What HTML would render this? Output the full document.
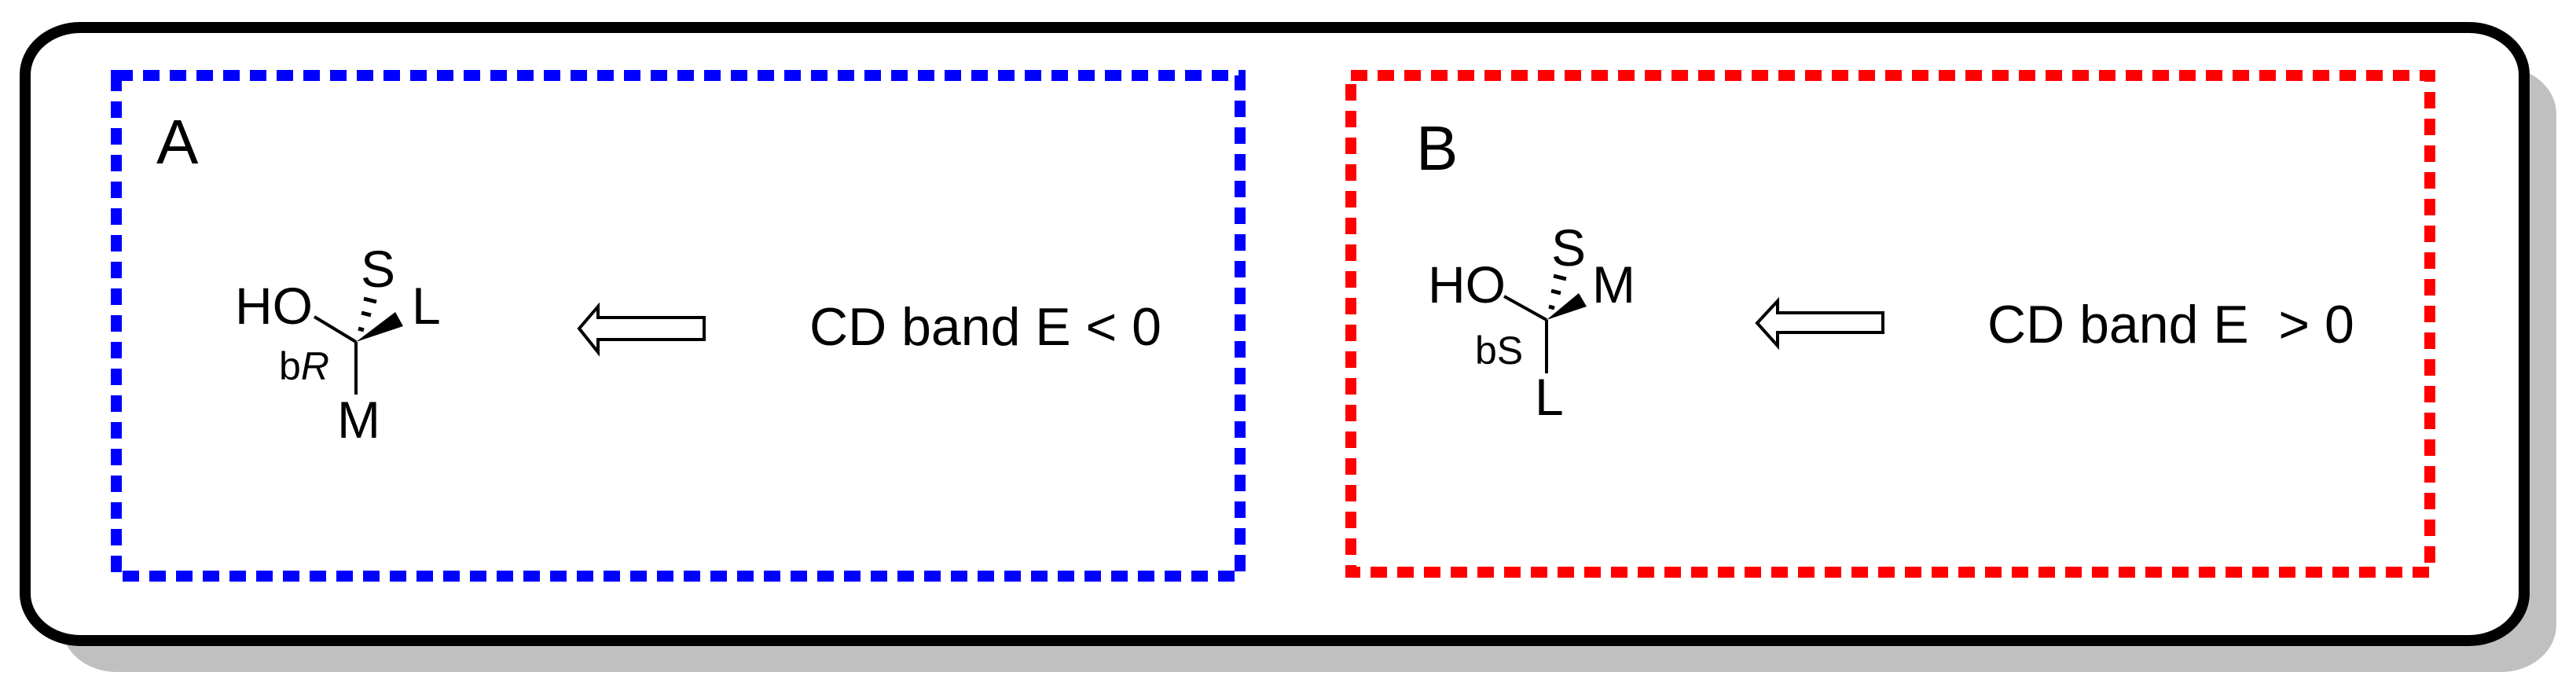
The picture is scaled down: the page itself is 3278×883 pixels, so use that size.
<!DOCTYPE html>
<html><head><meta charset="utf-8"><style>
html,body{margin:0;padding:0;background:#fff;}
svg{display:block;}
text{font-family:"Liberation Sans",Arial,sans-serif;fill:#000;}
</style></head><body>
<svg width="3278" height="883" viewBox="0 0 3278 883" xmlns="http://www.w3.org/2000/svg">
<rect x="78" y="85" width="3175" height="770" rx="70" ry="60" fill="#c0c0c0"/>
<rect x="32" y="35" width="3180" height="780" rx="70" ry="60" fill="#fff" stroke="#000" stroke-width="14"/>
<rect x="148" y="96" width="1430" height="637" fill="none" stroke="#0000ff" stroke-width="14" stroke-dasharray="21 13"/>
<rect x="1719" y="96" width="1373" height="632" fill="none" stroke="#ff0000" stroke-width="14" stroke-dasharray="21 13"/>
<text x="199" y="208" font-size="80">A</text>
<text x="1802" y="216" font-size="80">B</text>
<!-- molecule A -->
<g stroke="#000" stroke-width="4" fill="none">
<line x1="400" y1="403" x2="453" y2="435"/>
<line x1="453" y1="435" x2="453" y2="502"/>
</g>
<g stroke="#000" stroke-width="5" fill="none">
<line x1="456" y1="418" x2="463" y2="420"/>
<line x1="460" y1="398" x2="472" y2="401"/>
<line x1="463" y1="380" x2="479" y2="384"/>
</g>
<polygon points="453,435 503,397 513,415" fill="#000"/>
<text x="299" y="412" font-size="66">HO</text>
<text x="459" y="365" font-size="66">S</text>
<text x="524" y="412" font-size="66">L</text>
<text x="355" y="483" font-size="50">b<tspan font-style="italic">R</tspan></text>
<text x="429" y="557" font-size="66">M</text>
<polygon points="737,418 761,390 761,404 896,404 896,432 761,432 761,448" fill="#fff" stroke="#000" stroke-width="4"/>
<text x="1030" y="439" font-size="68">CD band E &lt; 0</text>
<!-- molecule B -->
<g stroke="#000" stroke-width="4" fill="none">
<line x1="1914" y1="377" x2="1968" y2="407"/>
<line x1="1968" y1="407" x2="1968" y2="475"/>
</g>
<g stroke="#000" stroke-width="5" fill="none">
<line x1="1971" y1="390" x2="1978" y2="392"/>
<line x1="1974" y1="370" x2="1986" y2="373"/>
<line x1="1977" y1="351" x2="1993" y2="355"/>
</g>
<polygon points="1968,407 2009,373 2019,390" fill="#000"/>
<text x="1817" y="385" font-size="66">HO</text>
<text x="1974" y="338" font-size="66">S</text>
<text x="2026" y="385" font-size="66">M</text>
<text x="1877" y="463" font-size="50">bS</text>
<text x="1953" y="528" font-size="66">L</text>
<polygon points="2236,411 2262,383 2262,398 2396,398 2396,423 2262,423 2262,440" fill="#fff" stroke="#000" stroke-width="4"/>
<text x="2529" y="436" font-size="68" xml:space="preserve">CD band E  &gt; 0</text>
</svg>
</body></html>
